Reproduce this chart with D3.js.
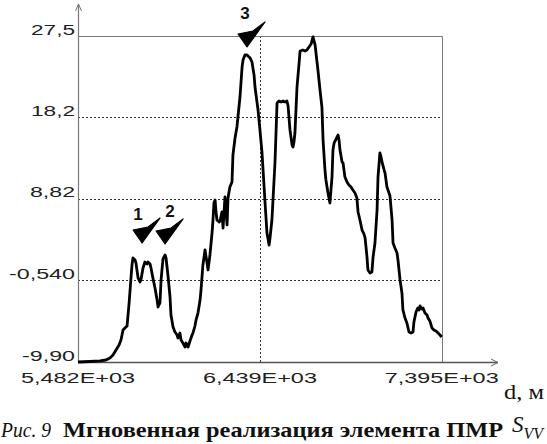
<!DOCTYPE html>
<html><head><meta charset="utf-8">
<script src="https://cdn.jsdelivr.net/npm/d3@7"></script>
<style>body{margin:0;background:#fff;overflow:hidden}svg{display:block}</style>
</head><body>
<script>
// ---- data ----
const distance = [5482,5545,5598,5629,5650,5666,5682,5698,5708,5719,5729,5740,5750,5756,5761,5766,5771,5782,5787,5798,5808,5813,5824,5834,5845,5850,5861,5866,5876,5887,5898,5903,5913,5919,5929,5940,5945,5955,5966,5971,5982,5992,6003,6008,6018,6024,6034,6045,6050,6061,6071,6082,6087,6097,6103,6113,6124,6129,6139,6145,6150,6160,6166,6176,6187,6192,6197,6203,6208,6213,6224,6229,6239,6245,6255,6266,6271,6281,6292,6297,6308,6318,6334,6345,6350,6360,6371,6376,6387,6397,6408,6413,6429,6439,6450,6466,6476,6487,6492,6502,6518,6529,6539,6550,6560,6571,6581,6587,6597,6608,6613,6618,6623,6634,6644,6650,6665,6676,6686,6697,6708,6718,6729,6744,6755,6765,6771,6781,6786,6797,6807,6818,6823,6829,6839,6850,6855,6860,6871,6876,6886,6897,6907,6918,6928,6939,6949,6955,6965,6976,6986,6992,7002,7007,7018,7028,7034,7044,7055,7060,7070,7076,7081,7092,7097,7107,7118,7123,7134,7139,7149,7160,7165,7176,7186,7191,7202,7212,7223,7234,7244,7249,7260,7270,7276,7281,7291,7297,7307,7318,7323,7333,7344,7354,7365,7376,7386,7395];
const svv = [-9.90,-9.84,-9.78,-9.67,-9.44,-9.10,-8.52,-7.95,-7.38,-6.23,-6.00,-5.77,-3.36,-1.64,-0.15,1.23,2.03,1.80,1.46,-0.26,-0.72,-0.49,0.88,1.57,1.34,1.57,1.34,0.88,-0.26,-1.41,-2.79,-3.59,-3.13,-0.49,1.92,2.38,2.03,0.08,-2.44,-4.51,-5.88,-6.46,-6.80,-7.15,-6.57,-7.38,-7.72,-8.18,-7.72,-8.18,-7.49,-6.80,-6.57,-5.77,-5.08,-4.28,-2.79,-1.64,1.23,2.15,2.95,1.57,0.66,2.38,4.90,6.39,8.34,8.69,7.31,6.39,6.16,6.28,7.31,5.47,9.03,5.82,8.91,10.18,10.75,13.85,15.80,17.06,20.50,23.94,24.75,25.32,25.32,25.21,24.98,24.52,23.03,21.65,19.01,16.72,14.08,8.34,4.90,3.52,4.33,6.39,12.93,19.81,20.04,19.93,20.04,19.93,20.04,19.47,16.72,14.99,14.77,15.34,16.37,21.65,24.17,25.78,25.89,25.78,25.89,26.24,26.58,27.39,26.47,23.60,21.30,19.35,15.57,12.13,10.98,9.49,8.34,11.32,14.42,15.22,15.68,16.14,15.57,14.42,13.05,12.93,11.32,10.75,10.41,10.18,9.83,9.49,8.91,7.31,6.39,5.24,4.79,4.33,2.15,0.66,0.31,0.43,2.15,3.75,7.54,11.32,14.08,13.62,13.05,12.13,11.78,10.18,9.49,9.14,6.39,3.75,3.18,2.61,1.80,-0.49,-1.98,-3.93,-4.85,-5.42,-6.46,-6.57,-6.46,-5.31,-4.16,-3.70,-3.93,-3.47,-3.82,-3.70,-4.28,-4.51,-4.85,-5.20,-6.00,-6.23,-6.34,-6.57,-6.80,-7.03];
const xTicks = [5482, 6439, 7395];
const xTickLabels = ["5,482E+03", "6,439E+03", "7,395E+03"];
const yTicks = [-9.9, -0.54, 8.82, 18.2, 27.5];
const yTickLabels = ["-9,90", "-0,540", "8,82", "18,2", "27,5"];
const markerLabels = ["1", "2", "3"];
const markerDistance = [5819, 5940, 6371];
const markerValue = [3.75, 3.64, 26.24];
const xAxisTitle = "d, м";
const captionPrefix = "Рис. 9";
const captionText = "Мгновенная реализация элемента ПМР";

// ---- layout ----
const W = 547, H = 444;
const L = 78, R = 441.7, T = 36, B = 362;
const svg = d3.select("body").append("svg").attr("width", W).attr("height", H);
const x = d3.scaleLinear().domain([5482, 7395]).range([L, R]);
const y = d3.scaleLinear().domain([-9.9, 27.5]).range([B, T]);

// grid (dotted)
const gridY = yTicks.filter(v => v > -9.9 && v < 27.5);
svg.append("g").selectAll("line").data(gridY).join("line")
  .attr("x1", L).attr("x2", R).attr("y1", d => Math.round(y(d)) + 0.5).attr("y2", d => Math.round(y(d)) + 0.5)
  .attr("stroke", "#333").attr("stroke-width", 1).attr("stroke-dasharray", "2,2");
const gridX = xTicks.filter(v => v > 5482 && v < 7395);
svg.append("g").selectAll("line").data(gridX).join("line")
  .attr("y1", T).attr("y2", B).attr("x1", d => Math.round(x(d)) + 0.5).attr("x2", d => Math.round(x(d)) + 0.5)
  .attr("stroke", "#333").attr("stroke-width", 1).attr("stroke-dasharray", "2,2");

// frame top & right
svg.append("path").attr("d", `M${L},${T + 0.5}H${Math.round(R) + 0.5}V${B}`)
  .attr("fill", "none").attr("stroke", "#777").attr("stroke-width", 1);

// axes with arrows
svg.append("path").attr("d", `M${L + 0.5},${B}V4`).attr("stroke", "#777").attr("stroke-width", 1.2).attr("fill", "none");
svg.append("path").attr("d", `M75.5,11L78.5,4L81.5,11`).attr("stroke", "#777").attr("stroke-width", 1).attr("fill", "none");
svg.append("path").attr("d", `M${L},${B + 0.5}H498`).attr("stroke", "#555").attr("stroke-width", 1.5).attr("fill", "none");
svg.append("path").attr("d", `M491,359L498,362.5L491,366`).attr("stroke", "#666").attr("stroke-width", 1).attr("fill", "none");

// tick labels
const yW = {"-9,90": 53, "-0,540": 66, "8,82": 45, "18,2": 44, "27,5": 44};
svg.append("g").selectAll("text").data(yTicks).join("text")
  .attr("x", (d, i) => 75 - yW[yTickLabels[i]]).attr("y", d => y(d) - 1.5)
  .attr("textLength", (d, i) => yW[yTickLabels[i]]).attr("lengthAdjust", "spacingAndGlyphs")
  .attr("font-family", "Liberation Sans, Arial, sans-serif").attr("font-size", 14).attr("fill", "#222")
  .text((d, i) => yTickLabels[i]);
svg.append("g").selectAll("text").data(xTicks).join("text")
  .attr("x", d => x(d) - 57).attr("y", B + 20.5)
  .attr("textLength", 114).attr("lengthAdjust", "spacingAndGlyphs")
  .attr("font-family", "Liberation Sans, Arial, sans-serif").attr("font-size", 14).attr("fill", "#222")
  .text((d, i) => xTickLabels[i]);

// curve
const line = d3.line().x(d => x(d[0])).y(d => y(d[1]));
svg.append("path").datum(distance.map((d, i) => [d, svv[i]]))
  .attr("d", line).attr("fill", "none").attr("stroke", "#000").attr("stroke-width", 2.8)
  .attr("stroke-linejoin", "round");

// markers (arrowheads + numbers)
const labelOffset = [[-4, -23], [5, -27], [-2, -28]];
markerLabels.forEach((lab, i) => {
  const tx = x(markerDistance[i]), ty = y(markerValue[i]);
  svg.append("path")
    .attr("d", `M${tx},${ty}L${tx - 9},${ty - 13}L${tx + 6},${ty - 16}L${tx + 18},${ty - 25}Z`)
    .attr("fill", "#000").attr("stroke", "#000").attr("stroke-width", 1.2).attr("stroke-linejoin", "round");
  svg.append("text").attr("x", tx + labelOffset[i][0]).attr("y", ty + labelOffset[i][1])
    .attr("text-anchor", "middle").attr("font-family", "Liberation Sans, Arial, sans-serif")
    .attr("font-weight", "bold").attr("font-size", 17).attr("fill", "#111").text(lab);
});

// axis title
svg.append("text").attr("x", 504).attr("y", 399).attr("textLength", 40).attr("lengthAdjust", "spacingAndGlyphs")
  .attr("font-family", "Liberation Serif, Times New Roman, serif").attr("font-size", 21).attr("fill", "#111")
  .text(xAxisTitle);

// caption
svg.append("text").attr("x", 1).attr("y", 437).attr("textLength", 50).attr("lengthAdjust", "spacingAndGlyphs")
  .attr("font-family", "Liberation Serif, Times New Roman, serif").attr("font-style", "italic")
  .attr("font-size", 22).attr("fill", "#111").text(captionPrefix);
svg.append("text").attr("x", 63).attr("y", 437).attr("textLength", 440).attr("lengthAdjust", "spacingAndGlyphs")
  .attr("font-family", "Liberation Serif, Times New Roman, serif").attr("font-weight", "bold")
  .attr("font-size", 22).attr("fill", "#111").text(captionText);
const s = svg.append("text").attr("x", 512).attr("y", 432)
  .attr("font-family", "Liberation Serif, Times New Roman, serif").attr("font-style", "italic").attr("fill", "#111");
s.append("tspan").attr("font-size", 23).text("S");
s.append("tspan").attr("font-size", 16).attr("dy", 7).text("VV");
</script>
</body></html>
